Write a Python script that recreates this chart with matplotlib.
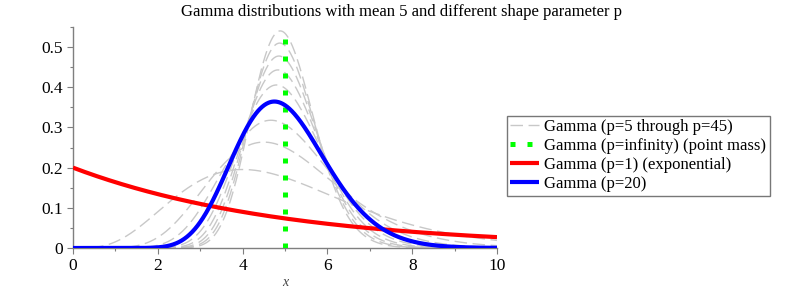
import math
import numpy as np
import matplotlib
matplotlib.use("Agg")
import matplotlib.pyplot as plt
from matplotlib.ticker import MultipleLocator

# ---- data ----
mean_value = 5.0
gray_shapes = [5, 10, 15, 20, 25, 30, 35, 40, 45]
exp_shape = 1
blue_shape = 20
point_mass_x = 5.0
point_mass_top = 0.535
x_range = (0.0, 10.0)
x_ticks = [0, 2, 4, 6, 8, 10]
y_ticks = [0, 0.1, 0.2, 0.3, 0.4, 0.5]
y_tick_labels = ["0", "0.1", "0.2", "0.3", "0.4", "0.5"]
legend_labels = ["Gamma (p=5 through p=45)",
                 "Gamma (p=infinity) (point mass)",
                 "Gamma (p=1) (exponential)",
                 "Gamma (p=20)"]
title = "Gamma distributions with mean 5 and different shape parameter p"


def gamma_pdf(x, p, mean):
    theta = mean / p
    logf = np.full_like(x, -np.inf)
    pos = x > 0
    logf[pos] = (p - 1) * np.log(x[pos]) - x[pos] / theta - math.lgamma(p) - p * math.log(theta)
    f = np.exp(logf)
    if p == 1:
        f[~pos] = 1.0 / theta
    return f


plt.rcParams['font.family'] = ['Liberation Serif', 'DejaVu Serif']

fig = plt.figure(figsize=(8.09, 2.92), dpi=100)
ax = fig.add_axes([73 / 809, 1 - 248 / 292, (497 - 73) / 809, (248 - 27) / 292])

xs = np.linspace(x_range[0], x_range[1], 801)

gray_handle = None
for p in gray_shapes:
    (h,) = ax.plot(xs, gamma_pdf(xs, p, mean_value), color="#c8c8c8", lw=1.0,
                   dashes=(9, 4), zorder=2)
    gray_handle = h

(green_h,) = ax.plot([point_mass_x, point_mass_x], [0, point_mass_top], color="#00ff00",
                     lw=3.6, dashes=(1.0, 2.4), dash_capstyle="butt", zorder=3)
(red_h,) = ax.plot(xs, gamma_pdf(xs, exp_shape, mean_value), color="#ff0000", lw=3.0,
                   zorder=4, solid_capstyle="butt")
(blue_h,) = ax.plot(xs, gamma_pdf(xs, blue_shape, mean_value), color="#0000ff", lw=3.0,
                    zorder=5, solid_capstyle="butt")

ax.set_xlim(*x_range)
ax.set_ylim(0, 0.55)
ax.set_xticks(x_ticks)
ax.set_xticklabels([str(t) for t in x_ticks])
ax.set_yticks(y_ticks)
ax.set_yticklabels(y_tick_labels)
ax.xaxis.set_minor_locator(MultipleLocator(1))
ax.yaxis.set_minor_locator(MultipleLocator(0.05))

for s in ["top", "right"]:
    ax.spines[s].set_visible(False)
for s in ["left", "bottom"]:
    ax.spines[s].set_color("#7f7f7f")
    ax.spines[s].set_linewidth(1.0)

ax.tick_params(which="major", length=4, width=0.8, color="#7f7f7f", labelsize=12.5, pad=3)
ax.tick_params(which="minor", length=2.5, width=0.8, color="#7f7f7f")

ax.set_xlabel("x", fontstyle="italic", fontsize=10, labelpad=2, color="#444444")

fig.suptitle(title, fontsize=12, y=0.985, x=0.496, va="top")

leg = ax.legend([gray_handle, green_h, red_h, blue_h], legend_labels,
                loc="upper left", bbox_to_anchor=(507 / 809, 1 - 116 / 292),
                bbox_transform=fig.transFigure, fontsize=12, frameon=True,
                fancybox=False, edgecolor="#555555", handlelength=1.7,
                handletextpad=0.35, borderpad=0.2, labelspacing=0.18,
                borderaxespad=0)
leg.get_frame().set_linewidth(1.0)

fig.savefig("out.png", dpi=100)
